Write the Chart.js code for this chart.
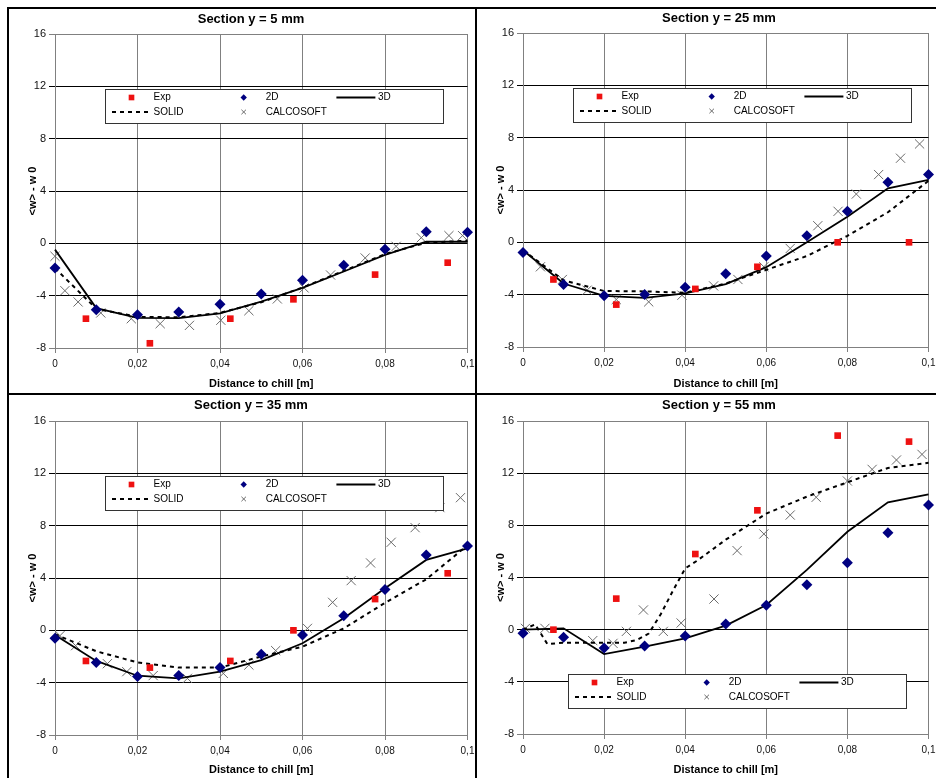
<!DOCTYPE html>
<html>
<head>
<meta charset="utf-8">
<script src="https://cdn.jsdelivr.net/npm/chart.js@4.4.1/dist/chart.umd.min.js"></script>
<style>
  body { margin: 0; background: #fff; width: 936px; height: 778px; overflow: hidden; position: relative; }
  canvas { position: absolute; }
  .linea { position: absolute; background: #000; }
</style>
</head>
<body>
<div class="linea" style="left:7px;top:7px;width:2px;height:771px"></div>
<div class="linea" style="left:7px;top:7px;width:929px;height:2px"></div>
<div class="linea" style="left:475px;top:7px;width:2px;height:771px"></div>
<div class="linea" style="left:7px;top:393px;width:929px;height:2px"></div>
<canvas id="graf5" width="466" height="384" style="left:9px;top:9px;width:466px;height:384px"></canvas>
<canvas id="graf25" width="459" height="384" style="left:477px;top:9px;width:459px;height:384px"></canvas>
<canvas id="graf35" width="466" height="383" style="left:9px;top:395px;width:466px;height:383px"></canvas>
<canvas id="graf55" width="459" height="383" style="left:477px;top:395px;width:459px;height:383px"></canvas>
<script>
// Ejes comunes
const xTicks = [0, 0.02, 0.04, 0.06, 0.08, 0.1];
const yTicks = [-8, -4, 0, 4, 8, 12, 16];
const xSim = [0, 0.01, 0.02, 0.03, 0.04, 0.05, 0.06, 0.07, 0.08, 0.09, 0.1];
const xExp = [0.0075, 0.023, 0.0425, 0.0578, 0.0776, 0.0952];

// Section y = 5 mm
const exp5 = [-5.76, -7.64, -5.76, -4.28, -2.39, -1.48];
const d2_5 = [-1.89, -5.07, -5.45, -5.25, -4.66, -3.87, -2.83, -1.68, -0.46, 0.89, 0.84];
const d3_5 = [-0.48, -4.95, -5.7, -5.72, -5.35, -4.45, -3.4, -2.15, -0.88, 0.12, 0.12];
const solid5 = [-1.9, -5.0, -5.62, -5.65, -5.32, -4.5, -3.38, -2.1, -0.82, 0.05, 0.2];
const calcX5 = [0, 0.0024, 0.0056, 0.0111, 0.0185, 0.0255, 0.0326, 0.0402, 0.047, 0.0539, 0.0604, 0.0668, 0.0752, 0.0827, 0.0888, 0.0955, 0.0988];
const calc5 = [-0.99, -3.62, -4.48, -5.32, -5.76, -6.14, -6.27, -5.88, -5.15, -4.25, -3.41, -2.42, -1.12, -0.23, 0.43, 0.59, 0.59];

// Section y = 25 mm
const exp25 = [-2.84, -4.76, -3.56, -1.87, 0, 0];
const d2_25 = [-0.77, -3.22, -4.09, -3.99, -3.43, -2.41, -1.05, 0.5, 2.37, 4.59, 5.18];
const d3_25 = [-0.6, -3.15, -4.1, -4.25, -3.9, -3.2, -1.9, 0, 1.96, 4.13, 4.77];
const solid25 = [-0.6, -2.9, -3.72, -3.75, -3.85, -3.15, -2.1, -1.05, 0.5, 2.3, 4.7];
const calcX25 = [0.0043, 0.0097, 0.0158, 0.023, 0.031, 0.0392, 0.047, 0.053, 0.0594, 0.0659, 0.0727, 0.0777, 0.0822, 0.0877, 0.0931, 0.0978];
const calc25 = [-1.87, -2.84, -3.66, -4.37, -4.55, -4.04, -3.33, -2.84, -1.87, -0.47, 1.27, 2.37, 3.69, 5.18, 6.43, 7.52];

// Section y = 35 mm
const exp35 = [-2.34, -2.85, -2.34, 0, 2.39, 4.36];
const d2_35 = [-0.61, -2.45, -3.52, -3.46, -2.85, -1.83, -0.36, 1.12, 3.13, 5.76, 6.45];
const d3_35 = [-0.36, -2.34, -3.47, -3.67, -3.16, -2.27, -0.99, 0.92, 3.21, 5.38, 6.27];
const solid35 = [-0.3, -1.6, -2.45, -2.85, -2.85, -2.0, -1.25, 0.15, 2.1, 3.9, 6.5];
const calcX35 = [0.0012, 0.005, 0.0127, 0.0174, 0.0238, 0.0321, 0.0408, 0.047, 0.0535, 0.0612, 0.0673, 0.0718, 0.0765, 0.0815, 0.0873, 0.0933, 0.0983];
const calc35 = [-0.41, -1.17, -2.55, -3.16, -3.46, -3.67, -3.29, -2.65, -1.55, 0.15, 2.14, 3.8, 5.15, 6.73, 7.85, 9.38, 10.14];

// Section y = 55 mm
const exp55 = [0, 2.38, 5.8, 9.15, 14.88, 14.42];
const d2_55 = [-0.28, -0.59, -1.41, -1.25, -0.49, 0.43, 1.87, 3.45, 5.14, 7.44, 9.56];
const d3_55 = [0, 0.1, -1.87, -1.3, -0.66, 0.31, 1.89, 4.58, 7.51, 9.76, 10.38];
const solidX55 = [0, 0.003, 0.006, 0.01, 0.02, 0.025, 0.028, 0.031, 0.034, 0.037, 0.04, 0.043, 0.05, 0.06, 0.07, 0.08, 0.09, 0.1];
const solid55 = [0, 0.4, -1.1, -1.0, -1.0, -1.0, -0.8, -0.3, 1.2, 3.0, 4.7, 5.3, 6.9, 8.9, 10.2, 11.3, 12.4, 12.8];
const calcX55 = [0.0006, 0.0054, 0.0172, 0.0222, 0.0255, 0.0297, 0.0346, 0.039, 0.0471, 0.0528, 0.0594, 0.0659, 0.0723, 0.08, 0.0861, 0.0921, 0.0984];
const calc55 = [0.1, 0.1, -0.84, -1.05, -0.13, 1.51, -0.13, 0.51, 2.35, 6.06, 7.34, 8.79, 10.15, 11.4, 12.29, 13.01, 13.44];

const ROJO = '#ee1111';
const AZUL = '#000080';
const GRIS = '#808080';
const FUENTE = '"Liberation Sans", Arial, sans-serif';

Chart.defaults.font.family = FUENTE;
Chart.defaults.color = '#000';

const pares = (xs, ys) => xs.map((x, i) => ({ x: x, y: ys[i] }));

// Titulo de cada panel, centrado donde lo pone Excel
const tituloPanel = {
    id: 'tituloPanel',
    afterDraw(chart, args, opts) {
        const ctx = chart.ctx;
        ctx.save();
        ctx.font = 'bold 13px ' + FUENTE;
        ctx.fillStyle = '#000';
        ctx.textAlign = 'center';
        ctx.textBaseline = 'middle';
        ctx.fillText(opts.text, opts.x, opts.y);
        ctx.restore();
    }
};

// Leyenda en caja, 3 columnas x 2 filas dentro del area del grafico
const leyendaCaja = {
    id: 'leyendaCaja',
    afterDatasetsDraw(chart, args, opts) {
        const { ctx, chartArea } = chart;
        const x0 = Math.round(chartArea.left + opts.dx) + 0.5;
        const y0 = Math.round(chartArea.top + opts.dy) + 0.5;
        const radios = { rect: 4, rectRot: 3.2, crossRot: 3.2 };
        ctx.save();
        ctx.fillStyle = '#fff';
        ctx.fillRect(x0, y0, opts.w, opts.h);
        ctx.strokeStyle = '#333';
        ctx.lineWidth = 1;
        ctx.strokeRect(x0, y0, opts.w, opts.h);
        ctx.font = '10px ' + FUENTE;
        ctx.textBaseline = 'middle';
        ctx.textAlign = 'left';
        chart.data.datasets.forEach((ds, i) => {
            const cx = x0 + 6.5 + (i % 3) * 112.2;
            const cy = y0 + 8 + Math.floor(i / 3) * 14.5;
            ctx.save();
            if (ds.showLine) {
                ctx.strokeStyle = ds.borderColor;
                ctx.lineWidth = ds.borderWidth;
                ctx.setLineDash(ds.borderDash || []);
                ctx.beginPath();
                ctx.moveTo(cx, cy);
                ctx.lineTo(cx + 39, cy);
                ctx.stroke();
            } else {
                ctx.fillStyle = ds.backgroundColor || ds.borderColor;
                ctx.strokeStyle = ds.borderColor;
                ctx.lineWidth = 1;
                Chart.helpers.drawPoint(ctx, {
                    pointStyle: ds.pointStyle,
                    radius: radios[ds.pointStyle],
                    rotation: 0,
                    borderWidth: ds.pointStyle === 'crossRot' ? 1 : 0
                }, cx + 19.5, cy);
            }
            ctx.restore();
            ctx.fillStyle = '#000';
            ctx.fillText(ds.label, cx + 41.5, cy);
        });
        ctx.restore();
    }
};

function crearSeries(exp, d2, d3, solidX, solid, calcX, calc) {
    return [
        { label: 'Exp', data: pares(xExp, exp), pointStyle: 'rect', pointRadius: 4.7,
          backgroundColor: ROJO, borderColor: ROJO, borderWidth: 0, showLine: false, clip: false },
        { label: '2D', data: pares(xSim, d2), pointStyle: 'rectRot', pointRadius: 5.5,
          backgroundColor: AZUL, borderColor: AZUL, borderWidth: 0, showLine: false, clip: false },
        { label: '3D', data: pares(xSim, d3), showLine: true, pointRadius: 0,
          borderColor: '#000', borderWidth: 1.8, tension: 0, clip: false },
        { label: 'SOLID', data: pares(solidX, solid), showLine: true, pointRadius: 0,
          borderColor: '#000', borderWidth: 2, borderDash: [4, 4], tension: 0, clip: false },
        { label: 'CALCOSOFT', data: pares(calcX, calc), pointStyle: 'crossRot', pointRadius: 6.5,
          backgroundColor: 'rgba(0,0,0,0)', borderColor: '#6a6a6a', borderWidth: 1, showLine: false, clip: false }
    ];
}

function crearGrafico(id, titulo, series, arriba, altoPlot, tituloY, leyenda) {
    const canvas = document.getElementById(id);
    const ancho = canvas.width;
    const alto = canvas.height;
    return new Chart(canvas.getContext('2d'), {
        type: 'scatter',
        data: { datasets: series },
        options: {
            responsive: false,
            animation: false,
            events: [],
            layout: { padding: { top: arriba, left: 0, right: ancho - 46 - 413, bottom: 0 } },
            plugins: {
                legend: { display: false },
                tooltip: { enabled: false },
                tituloPanel: { text: titulo, x: 242, y: tituloY },
                leyendaCaja: { dx: leyenda[0], dy: leyenda[1], w: 338, h: 34 }
            },
            scales: {
                x: {
                    type: 'linear',
                    min: 0,
                    max: 0.1,
                    afterBuildTicks: s => { s.ticks = xTicks.map(v => ({ value: v })); },
                    afterFit: s => { s.height = alto - arriba - altoPlot; s.paddingLeft = 0; s.paddingRight = 0; },
                    ticks: {
                        callback: v => String(+v.toFixed(2)).replace('.', ','),
                        font: { size: 10 },
                        color: '#111',
                        padding: 5,
                        maxRotation: 0,
                        autoSkip: false
                    },
                    grid: { color: GRIS, tickLength: 5 },
                    border: { color: GRIS },
                    title: {
                        display: true,
                        text: 'Distance to chill [m]',
                        font: { size: 11, weight: 'bold' },
                        color: '#000',
                        padding: { top: 0, bottom: alto - 375 - 6.6 }
                    }
                },
                y: {
                    type: 'linear',
                    min: -8,
                    max: 16,
                    afterBuildTicks: s => { s.ticks = yTicks.map(v => ({ value: v })); },
                    afterFit: s => { s.width = 46; },
                    ticks: {
                        callback: v => String(v),
                        font: { size: 11 },
                        color: '#111',
                        padding: 3
                    },
                    grid: {
                        color: c => (c.tick && (c.tick.value === 16 || c.tick.value === -8)) ? GRIS : '#000',
                        tickLength: 6
                    },
                    border: { color: GRIS },
                    title: {
                        display: true,
                        text: '<w> - w 0',
                        font: { size: 11, weight: 'bold' },
                        color: '#000',
                        padding: { top: 17.4, bottom: 0 }
                    }
                }
            }
        },
        plugins: [tituloPanel, leyendaCaja]
    });
}

crearGrafico('graf5', 'Section y = 5 mm',
    crearSeries(exp5, d2_5, d3_5, xSim, solid5, calcX5, calc5), 25, 314, 10.5, [50, 55]);
crearGrafico('graf25', 'Section y = 25 mm',
    crearSeries(exp25, d2_25, d3_25, xSim, solid25, calcX25, calc25), 24, 314, 9, [50, 55]);
crearGrafico('graf35', 'Section y = 35 mm',
    crearSeries(exp35, d2_35, d3_35, xSim, solid35, calcX35, calc35), 26, 314, 10.5, [50, 55]);
crearGrafico('graf55', 'Section y = 55 mm',
    crearSeries(exp55, d2_55, d3_55, solidX55, solid55, calcX55, calc55), 26, 313, 10.5, [45, 253]);
</script>
</body>
</html>
